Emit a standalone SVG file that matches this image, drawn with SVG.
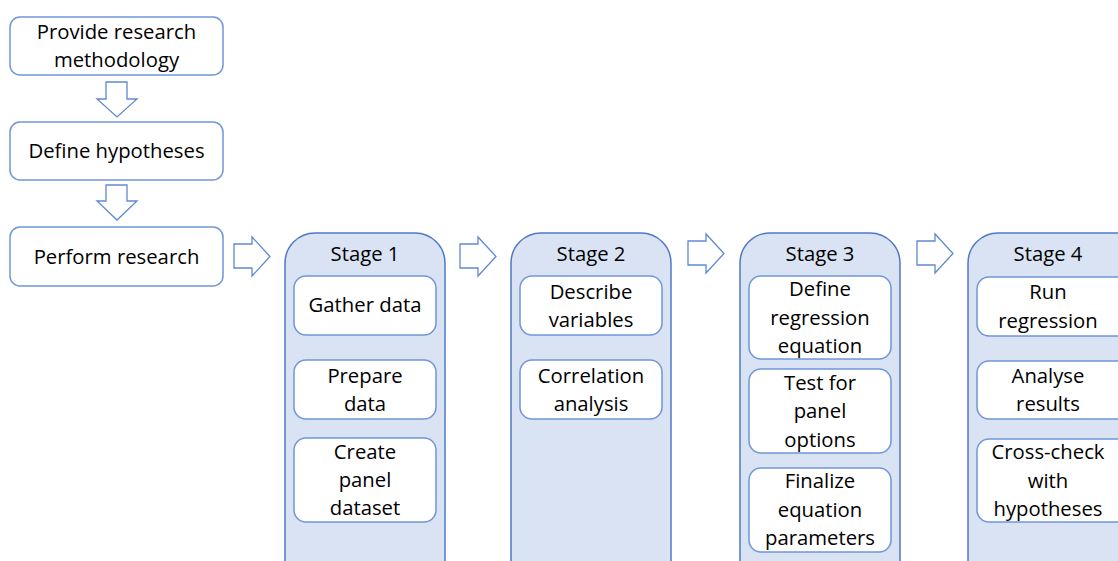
<svg xmlns="http://www.w3.org/2000/svg" width="1118" height="561" viewBox="0 0 1118 561">
<style>
.box{fill:#ffffff;stroke:#6f96d8;stroke-width:1.5}
.stage{fill:#dae3f3;stroke:#4f79c4;stroke-width:1.5}
.arr{fill:#ffffff;stroke:#5f89d2;stroke-width:1.3;stroke-linejoin:miter}
text{font-family:"Open Sans","Liberation Sans",sans-serif;font-size:20.3px;fill:#000000;text-anchor:middle}
</style>
<rect width="1118" height="561" fill="#ffffff"/>
<g id="connectors">
<path class="arr" d="M106,82 H127 V99 H137 L117,117 L97,99 H106 Z"/>
<path class="arr" d="M106,185 H127 V201 H137 L117,220 L97,201 H106 Z"/>
<path class="arr" d="M234,244 H252 V237 L270,256.5 L252,276 V268 H234 Z"/>
<path class="arr" d="M460,244 H478 V237 L496,256.5 L478,276 V268 H460 Z"/>
<path class="arr" d="M688,241 H706 V234 L724,253.5 L706,273 V265 H688 Z"/>
<path class="arr" d="M917,241 H935 V234 L953,253.5 L935,273 V265 H917 Z"/>
</g>
<g id="n1"><rect class="box" x="10" y="17" width="213" height="58" rx="10"/><text x="116.5" y="39">Provide research</text><text x="116.5" y="67">methodology</text></g>
<g id="n2"><rect class="box" x="10" y="122" width="213" height="58" rx="10"/><text x="116.5" y="158">Define hypotheses</text></g>
<g id="n3"><rect class="box" x="10" y="227" width="213" height="59" rx="10"/><text x="116.5" y="264">Perform research</text></g>

<g id="stage1"><rect class="stage" x="285" y="233" width="160" height="360" rx="30"/><text x="365" y="261">Stage 1</text></g>
<g id="s1a"><rect class="box" x="294" y="276" width="142" height="59" rx="12"/><text x="365" y="312">Gather data</text></g>
<g id="s1b"><rect class="box" x="294" y="360" width="142" height="59" rx="12"/><text x="365" y="383">Prepare</text><text x="365" y="411">data</text></g>
<g id="s1c"><rect class="box" x="294" y="438" width="142" height="84" rx="12"/><text x="365" y="459">Create</text><text x="365" y="487">panel</text><text x="365" y="515">dataset</text></g>

<g id="stage2"><rect class="stage" x="511" y="233" width="160" height="360" rx="30"/><text x="591" y="261">Stage 2</text></g>
<g id="s2a"><rect class="box" x="520" y="276" width="142" height="59" rx="12"/><text x="591" y="299">Describe</text><text x="591" y="327">variables</text></g>
<g id="s2b"><rect class="box" x="520" y="360" width="142" height="59" rx="12"/><text x="591" y="383">Correlation</text><text x="591" y="411">analysis</text></g>

<g id="stage3"><rect class="stage" x="740" y="233" width="160" height="360" rx="30"/><text x="820" y="261">Stage 3</text></g>
<g id="s3a"><rect class="box" x="749" y="276" width="142" height="83" rx="12"/><text x="820" y="296">Define</text><text x="820" y="325">regression</text><text x="820" y="353">equation</text></g>
<g id="s3b"><rect class="box" x="749" y="369" width="142" height="84" rx="12"/><text x="820" y="390">Test for</text><text x="820" y="418">panel</text><text x="820" y="447">options</text></g>
<g id="s3c"><rect class="box" x="749" y="468" width="142" height="84" rx="12"/><text x="820" y="488">Finalize</text><text x="820" y="517">equation</text><text x="820" y="545">parameters</text></g>

<g id="stage4"><rect class="stage" x="968" y="233" width="190" height="360" rx="30"/><text x="1048" y="261">Stage 4</text></g>
<g id="s4a"><rect class="box" x="977" y="277" width="160" height="59" rx="12"/><text x="1048" y="299">Run</text><text x="1048" y="328">regression</text></g>
<g id="s4b"><rect class="box" x="977" y="361" width="160" height="58" rx="12"/><text x="1048" y="383">Analyse</text><text x="1048" y="411">results</text></g>
<g id="s4c"><rect class="box" x="977" y="439" width="160" height="83" rx="12"/><text x="1048" y="459">Cross-check</text><text x="1048" y="488">with</text><text x="1048" y="516">hypotheses</text></g>
</svg>
